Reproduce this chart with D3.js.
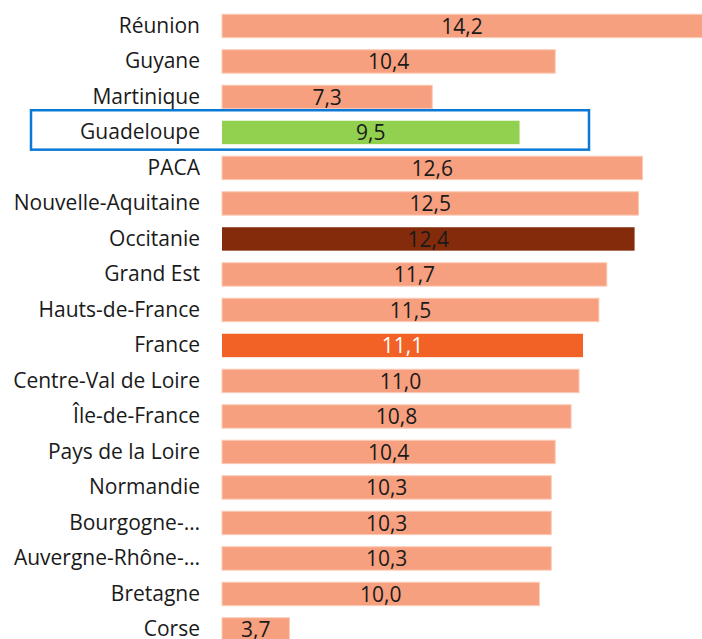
<!DOCTYPE html>
<html>
<head>
<meta charset="utf-8">
<script src="https://cdn.jsdelivr.net/npm/d3@7"></script>
<style>
body{margin:0;background:#fff;overflow:hidden}
text{font-family:"Open Sans",sans-serif}
</style>
</head>
<body>
<div id="chart"></div>
<script>
// regions, top to bottom
var regions=["Réunion","Guyane","Martinique","Guadeloupe","PACA","Nouvelle-Aquitaine","Occitanie","Grand Est","Hauts-de-France","France","Centre-Val de Loire","Île-de-France","Pays de la Loire","Normandie","Bourgogne-…","Auvergne-Rhône-…","Bretagne","Corse"];
var values=[14.2,10.4,7.3,9.5,12.6,12.5,12.4,11.7,11.5,11.1,11.0,10.8,10.4,10.3,10.3,10.3,10.0,3.7];
var special={"Guadeloupe":"#92d050","Occitanie":"#842b0b","France":"#f26125"};
var highlight="Guadeloupe";

var W=702,H=639;
var svg=d3.select("#chart").append("svg").attr("width",W).attr("height",H);

// axis starts at 2 (bars begin there), px per unit ~39.7
var x=d3.scaleLinear().domain([2,14.2]).range([222,706]);
var y=d3.scaleBand().domain(regions).range([8.2,647.2]).paddingInner(0.34).paddingOuter(0.17);

var fmt=function(v){return d3.format(".1f")(v).replace(".",",")};

svg.selectAll("rect.bar").data(regions).enter().append("rect")
	.attr("class","bar")
	.attr("x",x(2))
	.attr("y",function(d){return y(d)})
	.attr("width",function(d,i){return x(values[i])-x(2)})
	.attr("height",y.bandwidth())
	.attr("fill",function(d){return special[d]||"#f7a07f"})
	.attr("stroke",function(d){return special[d]?"none":"#fbcbb7"})
	.attr("stroke-width",1)

svg.selectAll("text.cat").data(regions).enter().append("text")
	.attr("class","cat")
	.attr("x",200)
	.attr("y",function(d){return y(d)+y.bandwidth()/2})
	.attr("dy","0.32em")
	.attr("text-anchor","end")
	.attr("font-size",21)
	.attr("fill","#1a1a1a")
	.text(function(d){return d})

svg.selectAll("text.val").data(regions).enter().append("text")
	.attr("class","val")
	.attr("x",function(d,i){return (x(2)+Math.min(x(values[i]),W))/2})
	.attr("y",function(d){return y(d)+y.bandwidth()/2})
	.attr("dy","0.38em")
	.attr("text-anchor","middle")
	.attr("font-size",21)
	.attr("fill",function(d){return d=="France"?"#fff":"#1a1a1a"})
	.text(function(d,i){return fmt(values[i])})

// box round the highlighted row
var hy=y(highlight);
svg.append("rect")
	.attr("x",31).attr("y",hy-10.5)
	.attr("width",558).attr("height",y.bandwidth()+16)
	.attr("fill","none").attr("stroke","#0a78d7").attr("stroke-width",2.5)
</script>
</body>
</html>
